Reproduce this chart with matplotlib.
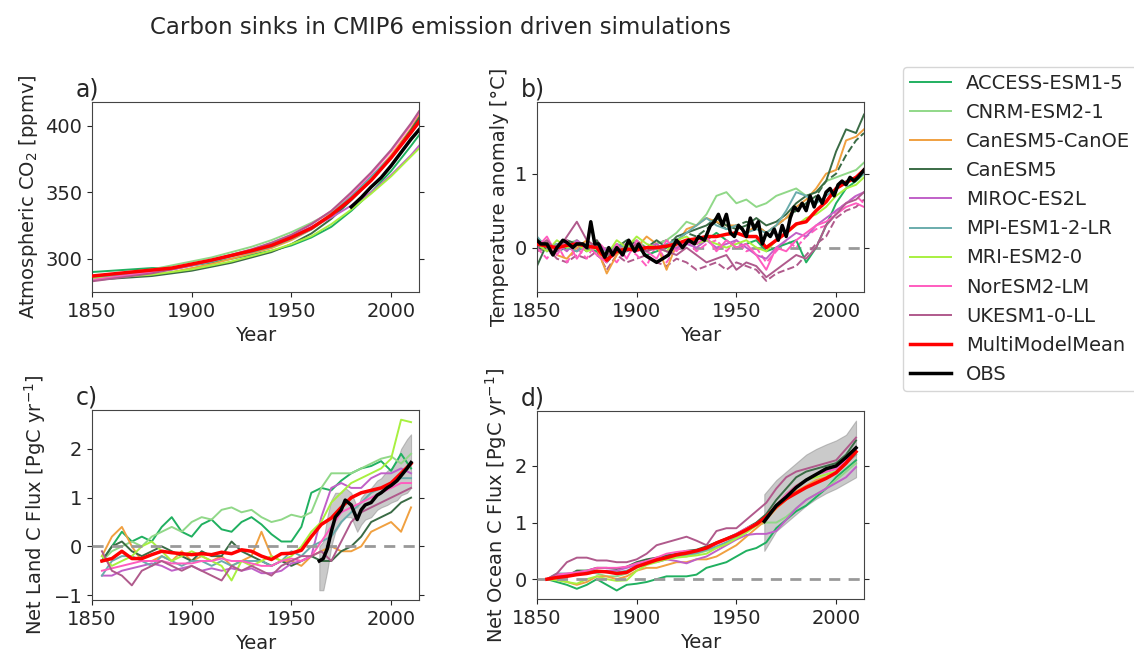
import matplotlib
matplotlib.use('Agg')
import matplotlib.pyplot as plt

models = ['ACCESS-ESM1-5', 'CNRM-ESM2-1', 'CanESM5-CanOE', 'CanESM5', 'MIROC-ES2L',
          'MPI-ESM1-2-LR', 'MRI-ESM2-0', 'NorESM2-LM', 'UKESM1-0-LL']
colors = ['#20b060', '#90d888', '#f0a040', '#3a6b45', '#c060c8',
          '#6aacac', '#a8f040', '#ff5cbf', '#b05a8c']

# a) atmospheric CO2 [ppmv]
years_a = [1850, 1860, 1870, 1880, 1890, 1900, 1910, 1920, 1930, 1940, 1950,
           1960, 1970, 1980, 1990, 2000, 2010, 2014]
a_access = [290, 291, 292, 293, 293, 295, 297, 300, 303, 306, 310, 316, 324, 336, 350, 366, 385, 393]
a_cnrm = [286, 288, 290, 292, 295, 298, 301, 305, 309, 314, 320, 327, 335, 347, 361, 377, 396, 404]
a_canoe = [285, 286, 287, 288, 290, 293, 296, 300, 304, 308, 314, 322, 332, 346, 361, 378, 398, 408]
a_canesm = [284, 285, 286, 287, 289, 291, 294, 297, 301, 305, 311, 319, 330, 344, 359, 376, 397, 406]
a_miroc = [284, 286, 288, 290, 292, 295, 298, 302, 306, 311, 317, 324, 331, 340, 350, 363, 378, 385]
a_mpi = [286, 287, 289, 290, 292, 295, 298, 302, 305, 309, 315, 322, 333, 347, 362, 377, 395, 402]
a_mri = [285, 286, 287, 288, 290, 292, 295, 298, 302, 306, 311, 317, 326, 337, 349, 362, 377, 383]
a_noresm = [284, 286, 288, 290, 292, 295, 299, 303, 307, 312, 318, 326, 336, 349, 364, 381, 401, 410]
a_ukesm = [283, 285, 287, 289, 292, 295, 299, 303, 307, 312, 318, 326, 336, 350, 365, 382, 402, 411]
a_mmm = [287, 288.5, 290, 291.5, 293, 296, 299, 302.5, 306, 310, 316, 323, 333, 345, 359, 376, 395, 403]
obs_a_years = [1980, 1985, 1990, 1995, 2000, 2005, 2010, 2014]
obs_a = [339, 346, 354, 361, 370, 380, 390, 397]

# b) temperature anomaly [degC]
years_b = [1850, 1855, 1860, 1865, 1870, 1875, 1880, 1885, 1890, 1895, 1900, 1905,
           1910, 1915, 1920, 1925, 1930, 1935, 1940, 1945, 1950, 1955, 1960, 1965,
           1970, 1975, 1980, 1985, 1990, 1995, 2000, 2005, 2010, 2014]
b_access = [0.0, 0.05, -0.05, 0.0, 0.05, 0.0, -0.05, -0.1, 0.0, -0.05, 0.0, -0.1,
            -0.05, 0.0, 0.05, 0.1, 0.05, 0.1, 0.2, 0.1, 0.0, 0.05, 0.1, -0.05,
            0.0, 0.05, 0.1, -0.2, 0.0, 0.3, 0.6, 0.8, 0.9, 1.0]
b_cnrm = [0.1, 0.05, 0.0, 0.05, 0.1, 0.0, 0.05, -0.1, 0.0, 0.05, 0.1, 0.0,
          0.05, 0.1, 0.2, 0.35, 0.3, 0.45, 0.7, 0.75, 0.6, 0.65, 0.55, 0.6,
          0.7, 0.75, 0.8, 0.7, 0.75, 0.9, 0.95, 1.0, 1.05, 1.15]
b_canoe = [0.0, 0.1, -0.1, -0.15, 0.0, 0.1, 0.0, -0.35, -0.1, 0.05, 0.0, 0.15,
           0.05, -0.3, 0.05, 0.25, 0.3, 0.4, 0.35, 0.3, 0.3, 0.2, 0.3, 0.2,
           0.3, 0.4, 0.55, 0.65, 0.8, 1.0, 1.05, 1.45, 1.5, 1.6]
b_canesm = [-0.25, 0.05, 0.0, 0.1, 0.05, -0.05, 0.1, -0.15, 0.0, 0.1, 0.05, 0.0,
            0.1, 0.0, 0.15, 0.2, 0.25, 0.3, 0.4, 0.3, 0.25, 0.3, 0.4, 0.3,
            0.35, 0.45, 0.6, 0.7, 0.75, 0.9, 1.3, 1.6, 1.55, 1.8]
b_miroc = [0.1, 0.0, 0.05, -0.05, 0.1, 0.0, 0.05, -0.05, 0.0, 0.05, -0.05, 0.0,
           0.05, -0.05, 0.0, 0.05, 0.0, 0.1, 0.0, 0.05, 0.1, 0.0, -0.1, -0.15,
           0.0, 0.1, 0.2, 0.15, 0.3, 0.4, 0.5, 0.6, 0.7, 0.75]
b_mpi = [0.15, 0.0, 0.05, 0.0, -0.05, 0.05, 0.0, -0.1, 0.05, 0.0, 0.05, -0.05,
         0.0, 0.05, 0.1, 0.2, 0.3, 0.4, 0.3, 0.25, 0.3, 0.2, 0.25, 0.2,
         0.3, 0.5, 0.75, 0.7, 0.6, 0.7, 0.8, 0.9, 0.95, 1.0]
b_mri = [0.05, -0.05, 0.1, 0.0, 0.05, -0.05, 0.0, -0.1, 0.1, 0.0, 0.15, 0.05,
         0.0, -0.05, 0.1, 0.15, 0.05, 0.1, 0.05, 0.0, 0.05, 0.1, 0.0, -0.05,
         0.1, 0.2, 0.3, 0.4, 0.45, 0.55, 0.7, 0.8, 0.85, 0.95]
b_noresm = [0.0, 0.15, -0.1, 0.1, -0.15, 0.05, -0.1, -0.2, 0.05, -0.15, 0.1, -0.05,
            -0.15, 0.1, -0.05, 0.1, 0.05, 0.15, -0.05, 0.1, 0.0, 0.05, -0.1, -0.3,
            0.0, -0.05, 0.1, 0.2, 0.3, 0.35, 0.45, 0.55, 0.6, 0.55]
b_ukesm = [0.0, 0.1, -0.05, 0.15, 0.35, 0.1, 0.0, -0.1, 0.0, -0.05, 0.05, -0.05,
           0.0, -0.05, -0.1, 0.0, -0.1, -0.2, -0.15, -0.1, -0.3, -0.2, -0.25, -0.4,
           -0.3, -0.2, -0.1, -0.15, 0.0, 0.3, 0.45, 0.6, 0.65, 0.75]
# second members, drawn dashed
b_canesm_r2 = [0.0, -0.05, 0.05, 0.0, -0.05, 0.05, -0.1, -0.2, -0.05, 0.0, 0.1, -0.05,
               0.05, 0.1, 0.1, 0.2, 0.15, 0.25, 0.35, 0.25, 0.3, 0.35, 0.3, 0.2,
               0.3, 0.4, 0.5, 0.6, 0.7, 0.9, 1.0, 1.25, 1.45, 1.55]
b_ukesm_r2 = [-0.05, 0.0, -0.15, -0.2, -0.1, -0.15, -0.05, -0.3, -0.1, -0.2, -0.15, -0.1,
              -0.2, -0.25, -0.15, -0.2, -0.3, -0.25, -0.2, -0.3, -0.2, -0.25, -0.3, -0.45,
              -0.35, -0.3, -0.25, -0.1, 0.05, 0.15, 0.4, 0.5, 0.55, 0.65]
b_noresm_r2 = [0.0, -0.15, 0.05, -0.2, 0.0, -0.15, 0.1, -0.05, -0.2, 0.0, -0.1, -0.25,
               0.05, -0.2, 0.0, 0.1, -0.05, 0.05, 0.1, -0.05, 0.1, -0.05, 0.0, -0.2,
               -0.05, 0.1, 0.0, 0.15, 0.25, 0.3, 0.5, 0.6, 0.7, 0.6]
b_mmm = [0.05, 0.02, 0.0, 0.03, 0.05, 0.02, 0.0, -0.17, -0.05, -0.02, -0.03, 0.0,
         0.0, 0.02, 0.05, 0.1, 0.12, 0.15, 0.15, 0.18, 0.2, 0.15, 0.15, 0.0,
         0.1, 0.2, 0.32, 0.35, 0.5, 0.62, 0.8, 0.88, 0.95, 1.05]
obs_b_years = [1850, 1852, 1855, 1858, 1860, 1863, 1865, 1868, 1870, 1873, 1875, 1877,
               1879, 1881, 1884, 1886, 1888, 1890, 1893, 1896, 1899, 1901, 1904, 1907,
               1910, 1913, 1916, 1918, 1920, 1923, 1926, 1929, 1931, 1934, 1937, 1939,
               1941, 1943, 1945, 1947, 1949, 1951, 1953, 1955, 1957, 1959, 1961, 1963,
               1965, 1967, 1969, 1971, 1973, 1975, 1977, 1979, 1981, 1983, 1985, 1987,
               1989, 1991, 1993, 1995, 1997, 1999, 2001, 2003, 2005, 2007, 2009, 2011, 2014]
obs_b = [0.1, 0.05, 0.05, -0.1, 0.0, 0.1, 0.07, 0.0, 0.05, 0.05, 0.0, 0.35,
         0.05, 0.05, -0.13, 0.0, -0.1, 0.0, -0.1, 0.1, -0.05, 0.05, -0.1, -0.15,
         -0.2, -0.15, -0.1, 0.0, 0.1, 0.0, 0.1, 0.05, 0.15, 0.1, 0.3, 0.35,
         0.45, 0.3, 0.45, 0.2, 0.15, 0.3, 0.25, 0.15, 0.4, 0.25, 0.35, 0.05,
         0.2, 0.15, 0.25, 0.1, 0.3, 0.15, 0.4, 0.55, 0.5, 0.6, 0.5, 0.7,
         0.55, 0.7, 0.6, 0.75, 0.8, 0.7, 0.85, 0.9, 0.85, 0.95, 0.9, 0.95, 1.05]

# c) net land C flux [PgC/yr] and d) net ocean C flux [PgC/yr]
years_cd = [1855, 1860, 1865, 1870, 1875, 1880, 1885, 1890, 1895, 1900, 1905, 1910,
            1915, 1920, 1925, 1930, 1935, 1940, 1945, 1950, 1955, 1960, 1965, 1970,
            1975, 1980, 1985, 1990, 1995, 2000, 2005, 2010]
c_access = [-0.3, 0.0, 0.3, 0.1, 0.2, 0.1, 0.4, 0.6, 0.3, 0.2, 0.45, 0.55,
            0.35, 0.3, 0.5, 0.6, 0.45, 0.25, 0.1, 0.1, 0.4, 1.1, 1.2, 1.15,
            1.35, 1.5, 1.6, 1.65, 1.75, 1.55, 1.9, 1.6]
c_cnrm = [-0.3, -0.1, 0.0, 0.1, 0.0, 0.2, 0.3, 0.4, 0.3, 0.5, 0.6, 0.55,
          0.75, 0.8, 0.7, 0.75, 0.6, 0.5, 0.55, 0.65, 0.6, 0.7, 1.2, 1.5,
          1.5, 1.5, 1.6, 1.7, 1.8, 1.85, 1.7, 1.9]
c_canoe = [-0.2, 0.2, 0.4, 0.0, -0.3, -0.3, -0.2, -0.3, -0.1, -0.3, -0.2, -0.3,
           -0.2, -0.4, -0.3, -0.2, 0.3, -0.2, -0.3, -0.3, -0.4, -0.2, -0.1, 0.0,
           -0.1, -0.1, 0.0, 0.3, 0.4, 0.5, 0.3, 0.8]
c_canesm = [-0.3, 0.0, 0.1, -0.1, -0.2, -0.1, 0.0, -0.1, -0.2, -0.3, -0.1, -0.2,
            -0.2, 0.1, -0.1, -0.2, -0.3, -0.4, -0.3, -0.4, -0.3, -0.2, -0.3, -0.3,
            -0.1, 0.0, 0.2, 0.5, 0.6, 0.7, 0.9, 1.0]
c_miroc = [-0.6, -0.6, -0.5, -0.45, -0.4, -0.35, -0.4, -0.5, -0.45, -0.4, -0.5, -0.45,
           -0.5, -0.45, -0.5, -0.45, -0.55, -0.55, -0.5, -0.35, -0.3, -0.2, 0.6, 1.2,
           1.3, 1.2, 1.2, 1.4, 1.5, 1.5, 1.6, 1.5]
c_mpi = [-0.6, -0.3, -0.2, -0.2, -0.3, -0.4, -0.2, -0.3, -0.4, -0.3, -0.3, -0.4,
         -0.3, -0.4, -0.3, -0.3, -0.3, -0.4, -0.3, -0.1, -0.2, 0.0, 0.1, 0.2,
         0.5, 0.7, 0.9, 1.1, 1.2, 1.3, 1.4, 1.4]
c_mri = [-0.2, -0.4, -0.3, -0.2, 0.0, 0.1, -0.1, -0.3, -0.2, -0.1, -0.2, -0.3,
         -0.4, -0.7, -0.3, -0.4, -0.3, -0.2, -0.3, -0.2, 0.0, 0.3, 0.5, 0.9,
         1.1, 1.3, 1.4, 1.5, 1.6, 1.8, 2.6, 2.55]
c_noresm = [-0.5, -0.45, -0.4, -0.35, -0.3, -0.3, -0.3, -0.35, -0.35, -0.35, -0.3, -0.3,
            -0.25, -0.3, -0.3, -0.35, -0.4, -0.4, -0.3, -0.25, -0.3, -0.2, 0.1, 0.4,
            0.7, 0.8, 0.9, 1.0, 1.1, 1.2, 1.3, 1.3]
c_ukesm = [-0.1, -0.5, -0.6, -0.8, -0.5, -0.4, -0.3, -0.4, -0.5, -0.4, -0.5, -0.6,
           -0.7, -0.4, -0.5, -0.4, -0.5, -0.6, -0.4, -0.3, -0.2, -0.2, -0.1, -0.3,
           0.1, 0.5, 0.7, 0.8, 0.9, 1.0, 1.1, 1.2]
c_mmm = [-0.3, -0.25, -0.1, -0.25, -0.25, -0.17, -0.1, -0.13, -0.15, -0.17, -0.15, -0.17,
         -0.12, -0.15, -0.07, -0.1, -0.2, -0.27, -0.15, -0.14, -0.08, 0.2, 0.45, 0.58,
         0.8, 1.0, 1.1, 1.15, 1.2, 1.3, 1.5, 1.7]
obs_c_years = [1964, 1966, 1968, 1970, 1972, 1975, 1977, 1980, 1983, 1985,
               1987, 1990, 1993, 1995, 1998, 2000, 2003, 2005, 2008, 2010]
obs_c = [-0.3, -0.25, -0.05, 0.3, 0.6, 0.75, 0.95, 0.85, 0.55, 0.75,
         0.85, 0.9, 1.05, 1.1, 1.2, 1.25, 1.35, 1.45, 1.6, 1.72]
obs_c_low = [-0.9, -0.9, -0.5, 0.0, 0.3, 0.5, 0.6, 0.6, 0.3, 0.45,
             0.55, 0.6, 0.75, 0.8, 0.85, 0.9, 0.95, 1.05, 1.1, 1.2]
obs_c_high = [0.0, 0.1, 0.6, 0.95, 1.1, 1.1, 1.2, 1.1, 0.8, 1.0,
              1.1, 1.2, 1.35, 1.4, 1.55, 1.6, 1.75, 2.0, 2.2, 2.3]

d_access = [0.0, -0.05, -0.1, -0.17, -0.1, 0.0, -0.1, -0.2, -0.1, -0.08, -0.05, 0.0,
            0.05, 0.05, 0.05, 0.08, 0.2, 0.25, 0.3, 0.4, 0.5, 0.55, 0.65, 0.9,
            1.05, 1.2, 1.3, 1.45, 1.6, 1.8, 1.95, 2.1]
d_cnrm = [0.0, 0.0, 0.05, 0.15, 0.15, 0.1, 0.05, 0.05, 0.1, 0.2, 0.3, 0.32,
          0.35, 0.4, 0.4, 0.45, 0.5, 0.55, 0.65, 0.75, 0.85, 0.95, 1.0, 1.0,
          1.1, 1.25, 1.4, 1.5, 1.6, 1.75, 1.9, 2.05]
d_canoe = [0.0, 0.0, -0.05, -0.1, -0.05, 0.05, 0.05, 0.0, 0.05, 0.15, 0.2, 0.2,
           0.25, 0.3, 0.3, 0.35, 0.35, 0.4, 0.5, 0.6, 0.75, 0.9, 1.05, 1.25,
           1.4, 1.55, 1.65, 1.75, 1.8, 1.9, 2.05, 2.2]
d_canesm = [0.0, 0.05, 0.05, 0.15, 0.15, 0.2, 0.2, 0.18, 0.22, 0.3, 0.35, 0.38,
            0.42, 0.45, 0.5, 0.52, 0.58, 0.65, 0.72, 0.8, 0.9, 1.0, 1.15, 1.4,
            1.6, 1.8, 1.9, 1.95, 2.0, 2.05, 2.2, 2.45]
d_miroc = [0.0, 0.05, 0.08, 0.1, 0.1, 0.12, 0.15, 0.15, 0.2, 0.25, 0.3, 0.3,
           0.35, 0.32, 0.28, 0.35, 0.4, 0.5, 0.6, 0.7, 0.78, 0.8, 0.8, 0.85,
           1.05, 1.25, 1.4, 1.5, 1.6, 1.7, 1.8, 1.98]
d_mpi = [0.0, 0.1, 0.1, 0.12, 0.15, 0.15, 0.12, 0.12, 0.15, 0.22, 0.28, 0.33,
         0.37, 0.4, 0.43, 0.46, 0.52, 0.58, 0.65, 0.72, 0.85, 0.98, 1.1, 1.3,
         1.5, 1.65, 1.75, 1.85, 1.9, 1.95, 2.05, 2.2]
d_mri = [0.0, -0.02, -0.05, -0.08, 0.0, 0.05, 0.0, -0.03, -0.02, 0.15, 0.25, 0.3,
         0.35, 0.38, 0.4, 0.42, 0.45, 0.55, 0.62, 0.72, 0.82, 0.95, 1.1, 1.3,
         1.5, 1.65, 1.75, 1.8, 1.85, 1.9, 2.05, 2.25]
d_noresm = [0.0, 0.08, 0.1, 0.12, 0.15, 0.2, 0.2, 0.2, 0.22, 0.28, 0.32, 0.38,
            0.45, 0.48, 0.5, 0.5, 0.55, 0.62, 0.7, 0.8, 0.9, 0.98, 1.1, 1.3,
            1.5, 1.65, 1.75, 1.85, 1.9, 1.95, 2.1, 2.3]
d_ukesm = [0.0, 0.1, 0.3, 0.38, 0.38, 0.33, 0.33, 0.3, 0.3, 0.35, 0.45, 0.6,
           0.65, 0.7, 0.75, 0.68, 0.6, 0.85, 0.9, 0.9, 1.05, 1.2, 1.35, 1.6,
           1.8, 1.9, 1.95, 2.0, 2.05, 2.1, 2.3, 2.5]
d_mmm = [0.0, 0.03, 0.05, 0.08, 0.1, 0.14, 0.13, 0.1, 0.12, 0.22, 0.28, 0.34,
         0.38, 0.43, 0.46, 0.5, 0.55, 0.64, 0.71, 0.78, 0.87, 0.97, 1.1, 1.28,
         1.42, 1.52, 1.62, 1.7, 1.78, 1.88, 2.05, 2.25]
obs_d_years = [1964, 1970, 1975, 1980, 1985, 1990, 1995, 2000, 2005, 2010]
obs_d = [1.02, 1.3, 1.45, 1.62, 1.75, 1.85, 1.95, 2.0, 2.15, 2.32]
obs_d_low = [0.5, 0.85, 1.0, 1.15, 1.3, 1.42, 1.52, 1.6, 1.7, 1.8]
obs_d_high = [1.5, 1.75, 1.9, 2.05, 2.2, 2.3, 2.38, 2.45, 2.55, 2.8]

TXT = '#262626'
plt.rcParams['font.size'] = 14
plt.rcParams['text.color'] = TXT
plt.rcParams['axes.labelcolor'] = TXT
plt.rcParams['xtick.color'] = TXT
plt.rcParams['ytick.color'] = TXT
plt.rcParams['axes.edgecolor'] = '#444444'

fig = plt.figure(figsize=(11.34, 6.57), dpi=100)
ax_a = fig.add_axes([0.0811, 0.5556, 0.2884, 0.2892])
ax_b = fig.add_axes([0.4735, 0.5556, 0.2884, 0.2892])
ax_c = fig.add_axes([0.0811, 0.0868, 0.2884, 0.2892])
ax_d = fig.add_axes([0.4735, 0.0883, 0.2884, 0.2861])


def draw_panel(ax, years, series, mmm, obs_years, obs, band=None, zero=False, zero_z=1):
    if zero:
        ax.axhline(0, color='#999999', linestyle='--', linewidth=2, dashes=(4, 3), zorder=zero_z)
    if band is not None:
        ax.fill_between(obs_years, band[0], band[1], color='#a0a0a0', alpha=0.55,
                        linewidth=0.8, edgecolor='#909090', zorder=1.5)
    for vals, col, name in zip(series, colors, models):
        ax.plot(years, vals, color=col, linewidth=1.4, label=name, zorder=2)
    ax.plot(years, mmm, color='red', linewidth=2.5, label='MultiModelMean', zorder=4)
    ax.plot(obs_years, obs, color='black', linewidth=2.5, label='OBS', zorder=5)
    ax.set_xlim(1850, 2014)
    ax.set_xticks([1850, 1900, 1950, 2000])
    ax.set_xlabel('Year')
    ax.tick_params(axis='y', right=True)


draw_panel(ax_a, years_a,
           [a_access, a_cnrm, a_canoe, a_canesm, a_miroc, a_mpi, a_mri, a_noresm, a_ukesm],
           a_mmm, obs_a_years, obs_a)
ax_a.set_ylim(275, 418)
ax_a.set_yticks([300, 350, 400])
ax_a.set_ylabel('Atmospheric CO$_2$ [ppmv]')

# dashed second members first, so that solid lines sit on top
ax_b.plot(years_b, b_canesm_r2, color=colors[3], linewidth=1.4, linestyle='--', zorder=2)
ax_b.plot(years_b, b_ukesm_r2, color=colors[8], linewidth=1.4, linestyle='--', zorder=2)
ax_b.plot(years_b, b_noresm_r2, color=colors[7], linewidth=1.4, linestyle='--', zorder=2)
draw_panel(ax_b, years_b,
           [b_access, b_cnrm, b_canoe, b_canesm, b_miroc, b_mpi, b_mri, b_noresm, b_ukesm],
           b_mmm, obs_b_years, obs_b, zero=True, zero_z=1)
ax_b.set_ylim(-0.6, 1.97)
ax_b.set_yticks([0, 1])
ax_b.set_ylabel('Temperature anomaly [°C]')

draw_panel(ax_c, years_cd,
           [c_access, c_cnrm, c_canoe, c_canesm, c_miroc, c_mpi, c_mri, c_noresm, c_ukesm],
           c_mmm, obs_c_years, obs_c, band=(obs_c_low, obs_c_high), zero=True, zero_z=3)
ax_c.set_ylim(-1.1, 2.8)
ax_c.set_yticks([-1, 0, 1, 2])
ax_c.set_ylabel('Net Land C Flux [PgC yr$^{-1}$]')

draw_panel(ax_d, years_cd,
           [d_access, d_cnrm, d_canoe, d_canesm, d_miroc, d_mpi, d_mri, d_noresm, d_ukesm],
           d_mmm, obs_d_years, obs_d, band=(obs_d_low, obs_d_high), zero=True, zero_z=3)
ax_d.set_ylim(-0.35, 2.97)
ax_d.set_yticks([0, 1, 2])
ax_d.set_ylabel('Net Ocean C Flux [PgC yr$^{-1}$]')

for ax, lab in zip([ax_a, ax_b, ax_c, ax_d], ['a)', 'b)', 'c)', 'd)']):
    ax.text(-0.05, 1.03, lab, transform=ax.transAxes, fontsize=17, ha='left', va='baseline')

handles, labels = ax_a.get_legend_handles_labels()
fig.legend(handles, labels, loc='upper left', bbox_to_anchor=(0.7963, 0.898),
           borderaxespad=0, borderpad=0.35, fontsize=14, handlelength=2.1,
           handletextpad=0.8, labelspacing=0.52)

fig.suptitle('Carbon sinks in CMIP6 emission driven simulations', x=0.388, y=0.975, fontsize=16.5)

fig.savefig('out.png', dpi=100)
